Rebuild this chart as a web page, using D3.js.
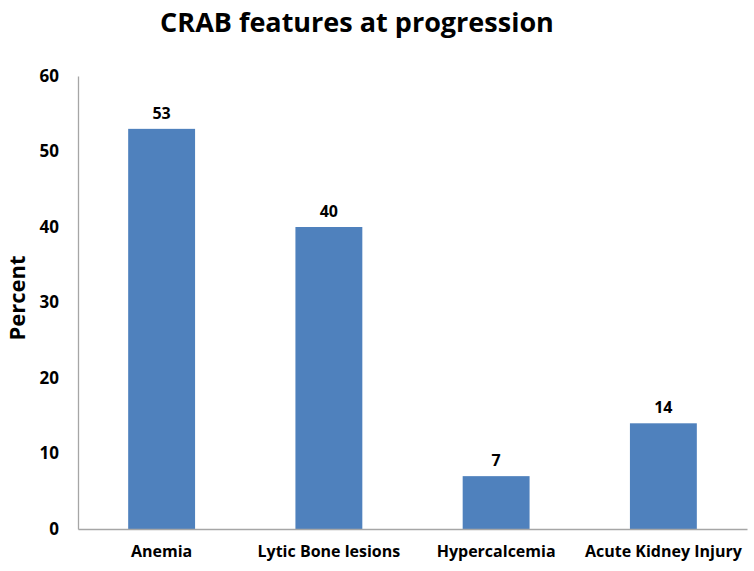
<!DOCTYPE html>
<html><head><meta charset="UTF-8">
<title>CRAB features at progression</title>
<script src="https://cdn.jsdelivr.net/npm/d3@7/dist/d3.min.js"></script>
<style>
  body { margin: 0; background: #fff; }
  svg text { font-family: "Open Sans", "DejaVu Sans", sans-serif; font-weight: bold; fill: #000; }
</style>
</head>
<body>
<svg width="754" height="571"></svg>
<script>
  // data
  var categories = ["Anemia", "Lytic Bone lesions", "Hypercalcemia", "Acute Kidney Injury"];
  var percents = [53, 40, 7, 14];
  var yTicks = [0, 10, 20, 30, 40, 50, 60];

  //begin: layout conf.
  var plotLeft = 78, plotRight = 747, plotTop = 76, plotBottom = 529;
  //end: layout conf.

  var svg = d3.select("svg");

  var x = d3.scaleBand()
    .domain(categories)
    .range([plotLeft, plotRight])
    .paddingInner(0.6)
    .paddingOuter(0.3);

  var y = d3.scaleLinear()
    .domain([0, 60])
    .range([plotBottom, plotTop]);

  // bars
  svg.append("g").selectAll("rect")
    .data(categories)
    .enter().append("rect")
      .attr("x", function(d){ return x(d); })
      .attr("y", function(d, i){ return y(percents[i]); })
      .attr("width", x.bandwidth())
      .attr("height", function(d, i){ return y(0) - y(percents[i]); })
      .attr("fill", "#4F81BD");

  // value labels
  svg.append("g").selectAll("text")
    .data(categories)
    .enter().append("text")
      .attr("x", function(d){ return x(d) + x.bandwidth()/2; })
      .attr("y", function(d, i){ return y(percents[i]) - 10; })
      .attr("text-anchor", "middle")
      .style("font-size", "16px")
      .text(function(d, i){ return percents[i]; });

  // y axis
  var yAxis = svg.append("g")
    .attr("transform", "translate(" + plotLeft + ",0)")
    .call(d3.axisLeft(y).tickValues(yTicks).tickSize(0).tickPadding(19));
  yAxis.select(".domain").attr("stroke", "#A6A6A6").attr("stroke-width", 1.3);
  yAxis.selectAll("text").style("font-size", "17px");

  // x axis
  var xAxis = svg.append("g")
    .attr("transform", "translate(0," + plotBottom + ")")
    .call(d3.axisBottom(x).tickSize(0).tickPadding(17));
  xAxis.select(".domain").attr("stroke", "#A6A6A6").attr("stroke-width", 1.3);
  xAxis.selectAll("text").style("font-size", "16px");

  // y label
  svg.append("text")
    .attr("transform", "translate(25,298) rotate(-90)")
    .attr("text-anchor", "middle")
    .style("font-size", "22px")
    .text("Percent");

  // title
  svg.append("text")
    .attr("x", 357)
    .attr("y", 32)
    .attr("text-anchor", "middle")
    .style("font-size", "27px")
    .text("CRAB features at progression");
</script>
</body></html>
